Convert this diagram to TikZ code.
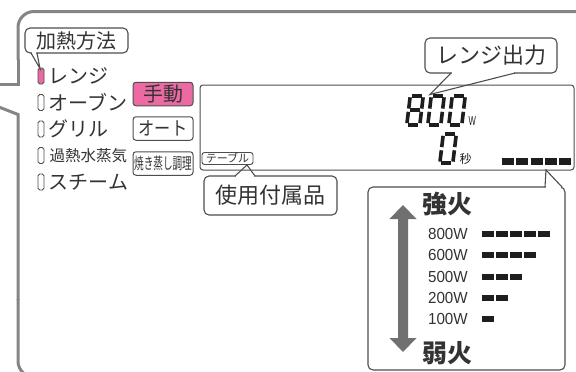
\documentclass[tikz,border=0pt]{standalone}
\usepackage{fontspec}
\setmainfont{Noto Sans CJK JP}
\newfontfamily\lsans{Liberation Sans}
\definecolor{txt}{HTML}{333333}
\definecolor{ln}{HTML}{4D4D4D}
\definecolor{panelc}{HTML}{858585}
\definecolor{pinkb}{HTML}{EC6AA4}
\definecolor{arrg}{HTML}{707070}
\definecolor{lcdk}{HTML}{1E1E1E}
\newcommand\fsz[1]{\fontsize{#1}{#1}\selectfont}
\newcommand\sgm[6]{\draw[segst] ({#1+#3+0.12*#4},{#2-#4}) -- ({#1+#5+0.12*#6},{#2-#6});}
\newcommand\lcdzero[2]{%
 \sgm{#1}{#2}{1.6}{29}{11.4}{29}%
 \sgm{#1}{#2}{13}{27.4}{13}{16.1}%
 \sgm{#1}{#2}{13}{12.9}{13}{1.6}%
 \sgm{#1}{#2}{1.6}{0}{11.4}{0}%
 \sgm{#1}{#2}{0}{1.6}{0}{12.9}%
 \sgm{#1}{#2}{0}{16.1}{0}{27.4}}
\newcommand\lcdeight[2]{\lcdzero{#1}{#2}\sgm{#1}{#2}{1.6}{14.5}{11.4}{14.5}}
\begin{document}
\begin{tikzpicture}[x=1pt,y=-1pt,
 cbox/.style={draw=ln,line width=1.1pt,rounded corners=5pt,fill=white,inner sep=0pt,text=txt},
 ptr/.style={draw=ln,line width=1.1pt,line join=miter},
 ind/.style={draw=ln,line width=0.9pt,rounded corners=1.8pt,minimum width=6pt,minimum height=16pt,inner sep=0pt},
 item/.style={anchor=west,inner sep=0pt,text=txt},
 btn/.style={draw=ln,line width=1pt,rounded corners=3pt,minimum width=60pt,minimum height=23.5pt,inner sep=0pt,text=txt},
 segst/.style={line width=3.6pt,draw=lcdk},
 pw/.style={anchor=east,inner sep=0pt,text=txt},
 panel/.style={draw=panelc,line width=3pt}]
\clip (0,0) rectangle (576,372);
% outer panel
\draw[panel,rounded corners=16pt] (600,11.5) -- (18,11.5) -- (18,60);
\draw[panel] (18,59) -- (18,84) -- (-5,84);
\draw[panel] (-5,105.5) -- (18,114.5) -- (18,300);
\draw[panel,rounded corners=16pt] (18,299) -- (18,377) -- (600,377);
% heating method callout
\node[cbox,minimum width=103pt,minimum height=25pt] (kanetsu) at (76.5,40.5) {\fsz{20}加熱方法};
% indicators and items
\node[ind,fill=pinkb] (i1) at (41,76) {};
\node[ind] (i2) at (41,102.5) {};
\node[ind] (i3) at (41,129) {};
\node[ind] (i4) at (41,155.5) {};
\node[ind] (i5) at (41,182) {};
\node[item] (t1) at (48.5,76) {\fsz{20}レンジ};
\node[item] (t2) at (48.5,102.5) {\fsz{20}オーブン};
\node[item] (t3) at (48.5,129) {\fsz{20}グリル};
\node[item] (t4) at (49.5,155.5) {\fsz{15.5}過熱水蒸気};
\node[item] (t5) at (48.5,182) {\fsz{20}スチーム};
\coordinate (k1) at (31,53);
\coordinate (k2) at (37,53);
\coordinate (kt) at (40,68.5);
\fill[white] (31.8,51.8) rectangle (36.4,54.2);
\draw[ptr] (k1) -- (kt) -- (k2);
% buttons
\node[btn,fill=pinkb] (b1) at (163,94) {\fsz{20}手動};
\node[btn] (b2) at (163,128.5) {\scalebox{0.85}[1]{\fsz{19}オート}};
\node[btn] (b3) at (163,163.5) {\scalebox{0.6}[1]{\fsz{16}焼き蒸し調理}};
% output callout
\node[cbox,minimum width=132pt,minimum height=35pt] (out) at (491,55.5) {\fsz{22}レンジ出力};
\coordinate (o1) at (451,73);
\coordinate (o2) at (515,73);
\coordinate (ot) at (430,94.5);
\fill[white] (452,71.5) rectangle (514,74.2);
\draw[ptr] (o1) -- (ot) -- (o2);
% accessory callout
\node[draw=ln,line width=0.9pt,rounded corners=2.5pt,minimum width=51pt,minimum height=12pt,inner sep=0pt,text=txt] (tbl) at (227.5,158.5) {\fsz{11}テーブル};
\node[cbox,minimum width=133pt,minimum height=39pt] (acc) at (270.5,195.5) {\fsz{22}使用付属品};
\coordinate (a1) at (235,176);
\coordinate (a2) at (255,176);
\coordinate (at1) at (247,165);
\fill[white] (236,174.8) rectangle (254,177.2);
\draw[ptr] (a1) -- (at1) -- (a2);
% level box
\node[draw=ln,line width=1.1pt,rounded corners=5pt,fill=white,minimum width=197pt,minimum height=183pt,inner sep=0pt] (lvl) at (466.5,278.5) {};
\coordinate (l1) at (545,187);
\coordinate (l2) at (562,187);
\coordinate (lt) at (546,170);
\fill[white] (546,185.8) rectangle (561,188.2);
\draw[ptr] (l1) -- (lt) -- (l2);
% LCD
\node[draw=ln,line width=1pt,rounded corners=3pt,minimum width=374pt,minimum height=85pt,inner sep=0pt] (lcd) at (387,127.5) {};
\lcdeight{406.8}{124.7}
\lcdzero{427.8}{124.7}
\lcdzero{448.8}{124.7}
\lcdzero{439.8}{163.2}
\node[inner sep=0pt,anchor=south west,text=lcdk] (wu) at (468.5,125.3) {\scalebox{0.6}[1]{\lsans\fsz{13}W}};
\node[inner sep=0pt,text=lcdk] (sec) at (465.5,159) {\fsz{12}秒};
\foreach \i in {0,...,4} \fill[lcdk] ({502+14.3*\i},158) rectangle ++(12,7);
% level contents
\fill[arrg] (403,205) -- (416.5,219) -- (408,219) -- (408,338) -- (416.5,338) -- (403,352) -- (389.5,338) -- (398,338) -- (398,219) -- (389.5,219) -- cycle;
\node[inner sep=0pt,text=txt] (strong) at (447,204.5) {\fsz{25}\bfseries 強火};
\node[inner sep=0pt,text=txt] (weak) at (447,353.5) {\fsz{25}\bfseries 弱火};
\foreach \lab/\n [count=\i from 0] in {800W/5,600W/4,500W/3,200W/2,100W/1} {
 \node[pw] (pw\i) at (468,{234+21.25*\i}) {\scalebox{0.95}[1]{\lsans\fsz{16}\lab}};
 \foreach \j in {1,...,\n} \fill[lcdk] ({482+14*(\j-1)},{231+21.25*\i}) rectangle ++(11.5,6);
}
\end{tikzpicture}
\end{document}
